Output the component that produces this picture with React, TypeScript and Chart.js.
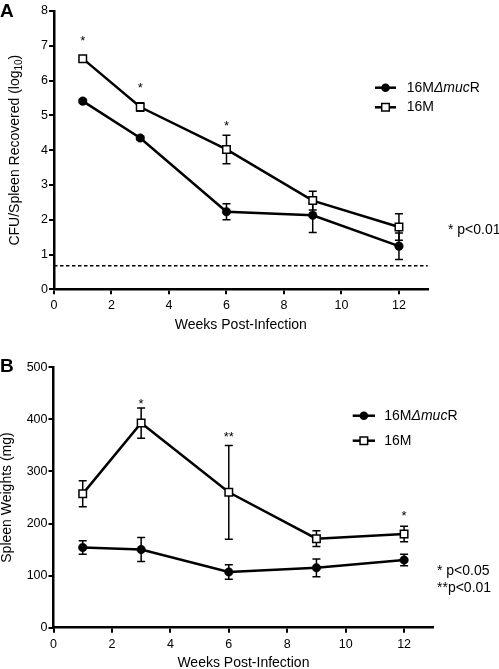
import React, { useEffect, useRef } from 'react';
import { Chart, registerables } from 'chart.js';

Chart.register(...registerables);

// ---------- data ----------
const weeks = [1, 3, 6, 9, 12];
const xTickMax = 13;

// Panel A: CFU/Spleen recovered (log10)
const cfuMutant = [5.41, 4.35, 2.23, 2.13, 1.24];
const cfuMutantErr = [0.05, 0.05, 0.23, 0.5, 0.38];
const cfuWild = [6.63, 5.24, 4.02, 2.55, 1.79];
const cfuWildErr = [0.04, 0.12, 0.41, 0.27, 0.38];
const cfuDetectionLimit = 0.68;
const cfuSigWeeks = [1, 3, 6];
const cfuSigMarks = ['*', '*', '*'];
const cfuSigY = [7.24, 5.89, 4.8];
const cfuPText = ['* p<0.01'];

// Panel B: Spleen weights (mg)
const spleenMutant = [154, 150, 107, 115, 130];
const spleenMutantErr = [13, 23, 14, 17, 11];
const spleenWild = [257, 393, 260, 171, 180];
const spleenWildErr = [25, 29, 90, 15, 15];
const spleenSigWeeks = [3, 6, 12];
const spleenSigMarks = ['*', '**', '*'];
const spleenSigY = [437, 373, 221];
const spleenPText = ['* p<0.05', '**p<0.01'];

const seriesNames = ['16MΔmucR', '16M'];
const xTitle = 'Weeks Post-Infection';

const FONT = '"Liberation Sans", Arial, Helvetica, sans-serif';

type PanelCfg = {
  top: number;
  height: number;
  letter: string;
  letterBaseline: number;
  mutant: number[];
  mutantErr: number[];
  wild: number[];
  wildErr: number[];
  limit: number | null;
  sigWeeks: number[];
  sigMarks: string[];
  sigY: number[];
  pText: string[];
  pX: number;
  pY: number;
  pLineGap: number;
  yMax: number;
  yStep: number;
  yWidth: number;
  xHeight: number;
  padTop: number;
  padRight: number;
  titlePad: number;
  yTitleX: number;
  yTitleParts: { t: string; sub?: boolean }[];
  legX0: number;
  legX1: number;
  legTextX: number;
  legY: number[];
};

function drawCircle(ctx: CanvasRenderingContext2D, x: number, y: number, r: number) {
  ctx.beginPath();
  ctx.arc(x, y, r, 0, Math.PI * 2);
  ctx.fillStyle = '#000';
  ctx.fill();
}

function drawSquare(ctx: CanvasRenderingContext2D, x: number, y: number, half: number) {
  ctx.beginPath();
  ctx.rect(x - half, y - half, half * 2, half * 2);
  ctx.fillStyle = '#fff';
  ctx.fill();
  ctx.lineWidth = 1.5;
  ctx.strokeStyle = '#000';
  ctx.stroke();
}

function makePlugin(p: PanelCfg) {
  return {
    id: 'panelDecor' + p.letter,
    beforeDatasetsDraw(chart: any) {
      const ctx: CanvasRenderingContext2D = chart.ctx;
      const xs = chart.scales.x;
      const ys = chart.scales.y;
      ctx.save();
      if (p.limit !== null) {
        ctx.setLineDash([3.5, 2.5]);
        ctx.lineWidth = 1.5;
        ctx.strokeStyle = '#000';
        const yy = ys.getPixelForValue(p.limit);
        ctx.beginPath();
        ctx.moveTo(xs.getPixelForValue(0), yy);
        ctx.lineTo(xs.getPixelForValue(xTickMax), yy);
        ctx.stroke();
        ctx.setLineDash([]);
      }
      ctx.lineWidth = 1.5;
      ctx.strokeStyle = '#000';
      const groups: [number[], number[]][] = [
        [p.mutant, p.mutantErr],
        [p.wild, p.wildErr],
      ];
      groups.forEach(([vals, errs]) => {
        weeks.forEach((w, i) => {
          const px = xs.getPixelForValue(w);
          const t = ys.getPixelForValue(vals[i] + errs[i]);
          const b = ys.getPixelForValue(vals[i] - errs[i]);
          ctx.beginPath();
          ctx.moveTo(px, t);
          ctx.lineTo(px, b);
          ctx.moveTo(px - 4, t);
          ctx.lineTo(px + 4, t);
          ctx.moveTo(px - 4, b);
          ctx.lineTo(px + 4, b);
          ctx.stroke();
        });
      });
      ctx.restore();
    },
    afterDraw(chart: any) {
      const ctx: CanvasRenderingContext2D = chart.ctx;
      const xs = chart.scales.x;
      const ys = chart.scales.y;
      const area = chart.chartArea;
      ctx.save();
      ctx.fillStyle = '#000';

      // significance asterisks
      ctx.font = `13px ${FONT}`;
      ctx.textAlign = 'center';
      ctx.textBaseline = 'alphabetic';
      p.sigWeeks.forEach((w, i) => {
        ctx.fillText(p.sigMarks[i], xs.getPixelForValue(w), ys.getPixelForValue(p.sigY[i]) + 7.4);
      });

      // p-value notes
      ctx.font = `14px ${FONT}`;
      ctx.textAlign = 'left';
      ctx.textBaseline = 'middle';
      p.pText.forEach((t, i) => {
        ctx.fillText(t, p.pX, p.pY + i * p.pLineGap);
      });

      // legend
      p.legY.forEach((ly, i) => {
        ctx.beginPath();
        ctx.lineWidth = 2.5;
        ctx.strokeStyle = '#000';
        ctx.moveTo(p.legX0, ly);
        ctx.lineTo(p.legX1, ly);
        ctx.stroke();
        const mx = (p.legX0 + p.legX1) / 2;
        if (i === 0) drawCircle(ctx, mx, ly, 4.3);
        else drawSquare(ctx, mx, ly, 3.8);
        ctx.fillStyle = '#000';
        ctx.textBaseline = 'middle';
        ctx.textAlign = 'left';
        let x = p.legTextX;
        if (i === 0) {
          const parts: [string, boolean][] = [
            ['16M', false],
            ['Δmuc', true],
            ['R', false],
          ];
          parts.forEach(([t, it]) => {
            ctx.font = `${it ? 'italic ' : ''}14px ${FONT}`;
            ctx.fillText(t, x, ly);
            x += ctx.measureText(t).width;
          });
        } else {
          ctx.font = `14px ${FONT}`;
          ctx.fillText(seriesNames[1], x, ly);
        }
      });

      // panel letter
      ctx.font = `bold 19px ${FONT}`;
      ctx.textAlign = 'left';
      ctx.textBaseline = 'alphabetic';
      ctx.fillText(p.letter, 0, p.letterBaseline);

      // y-axis title (rotated)
      const cy = (area.top + area.bottom) / 2;
      ctx.translate(p.yTitleX, cy);
      ctx.rotate(-Math.PI / 2);
      let total = 0;
      p.yTitleParts.forEach((part) => {
        ctx.font = `${part.sub ? 10 : 14}px ${FONT}`;
        total += ctx.measureText(part.t).width;
      });
      let x = -total / 2;
      p.yTitleParts.forEach((part) => {
        ctx.font = `${part.sub ? 10 : 14}px ${FONT}`;
        ctx.textBaseline = 'middle';
        ctx.fillText(part.t, x, part.sub ? 4 : 0);
        x += ctx.measureText(part.t).width;
      });
      ctx.restore();
    },
  };
}

function buildConfig(p: PanelCfg): any {
  const tickFont = { family: FONT, size: 12.5 };
  return {
    type: 'line',
    data: {
      datasets: [
        {
          label: seriesNames[0],
          data: weeks.map((w, i) => ({ x: w, y: p.mutant[i] })),
          borderColor: '#000',
          borderWidth: 2.5,
          pointStyle: 'circle',
          pointRadius: 4.3,
          pointBackgroundColor: '#000',
          pointBorderColor: '#000',
          pointBorderWidth: 0.5,
          tension: 0,
          fill: false,
        },
        {
          label: seriesNames[1],
          data: weeks.map((w, i) => ({ x: w, y: p.wild[i] })),
          borderColor: '#000',
          borderWidth: 2.5,
          pointStyle: 'rect',
          pointRadius: 5.3,
          pointBackgroundColor: '#fff',
          pointBorderColor: '#000',
          pointBorderWidth: 1.5,
          tension: 0,
          fill: false,
        },
      ],
    },
    options: {
      responsive: false,
      animation: false,
      events: [],
      layout: { padding: { left: 0, top: p.padTop, right: p.padRight, bottom: 0 } },
      plugins: { legend: { display: false }, tooltip: { enabled: false } },
      scales: {
        x: {
          type: 'linear',
          min: 0,
          max: xTickMax,
          afterFit: (s: any) => {
            s.height = p.xHeight;
          },
          ticks: { stepSize: 2, includeBounds: false, font: tickFont, color: '#000', padding: 4, maxRotation: 0 },
          grid: { display: true, drawOnChartArea: false, drawTicks: true, tickLength: 5, color: '#000', lineWidth: 2 },
          border: { display: true, color: '#000', width: 2.5 },
          title: {
            display: true,
            text: xTitle,
            color: '#000',
            font: { family: FONT, size: 14 },
            padding: { top: 0, bottom: p.titlePad },
          },
        },
        y: {
          type: 'linear',
          min: 0,
          max: p.yMax,
          afterFit: (s: any) => {
            s.width = p.yWidth;
          },
          ticks: { stepSize: p.yStep, font: tickFont, color: '#000', padding: 1 },
          grid: { display: true, drawOnChartArea: false, drawTicks: true, tickLength: 5, color: '#000', lineWidth: 2 },
          border: { display: true, color: '#000', width: 2.5 },
        },
      },
    },
    plugins: [makePlugin(p)],
  };
}

const panelA: PanelCfg = {
  top: 0,
  height: 335,
  letter: 'A',
  letterBaseline: 16.5,
  mutant: cfuMutant,
  mutantErr: cfuMutantErr,
  wild: cfuWild,
  wildErr: cfuWildErr,
  limit: cfuDetectionLimit,
  sigWeeks: cfuSigWeeks,
  sigMarks: cfuSigMarks,
  sigY: cfuSigY,
  pText: cfuPText,
  pX: 448,
  pY: 230,
  pLineGap: 17,
  yMax: 8,
  yStep: 1,
  yWidth: 54,
  xHeight: 45.7,
  padTop: 11,
  padRight: 71.3,
  titlePad: 1.6,
  yTitleX: 15.5,
  yTitleParts: [{ t: 'CFU/Spleen Recovered (log' }, { t: '10', sub: true }, { t: ')' }],
  legX0: 375,
  legX1: 396,
  legTextX: 406.7,
  legY: [87.7, 107.3],
};

const panelB: PanelCfg = {
  top: 335,
  height: 334,
  letter: 'B',
  letterBaseline: 36.7,
  mutant: spleenMutant,
  mutantErr: spleenMutantErr,
  wild: spleenWild,
  wildErr: spleenWildErr,
  limit: null,
  sigWeeks: spleenSigWeeks,
  sigMarks: spleenSigMarks,
  sigY: spleenSigY,
  pText: spleenPText,
  pX: 437,
  pY: 236,
  pLineGap: 17.3,
  yMax: 500,
  yStep: 100,
  yWidth: 53.5,
  xHeight: 41.3,
  padTop: 32.3,
  padRight: 65.7,
  titlePad: -2.4,
  yTitleX: 7,
  yTitleParts: [{ t: 'Spleen Weights (mg)' }],
  legX0: 352.7,
  legX1: 375,
  legTextX: 384.3,
  legY: [80.7, 105.7],
};

function Panel({ cfg }: { cfg: PanelCfg }) {
  const ref = useRef<HTMLCanvasElement>(null);
  useEffect(() => {
    if (!ref.current) return;
    const chart = new Chart(ref.current, buildConfig(cfg));
    return () => chart.destroy();
  }, [cfg]);
  return (
    <canvas
      ref={ref}
      width={499}
      height={cfg.height}
      style={{ position: 'absolute', left: 0, top: cfg.top, width: 499, height: cfg.height, display: 'block' }}
    />
  );
}

export default function App() {
  return (
    <div style={{ position: 'absolute', left: 0, top: 0, width: 499, height: 669, background: '#fff' }}>
      <Panel cfg={panelA} />
      <Panel cfg={panelB} />
    </div>
  );
}
